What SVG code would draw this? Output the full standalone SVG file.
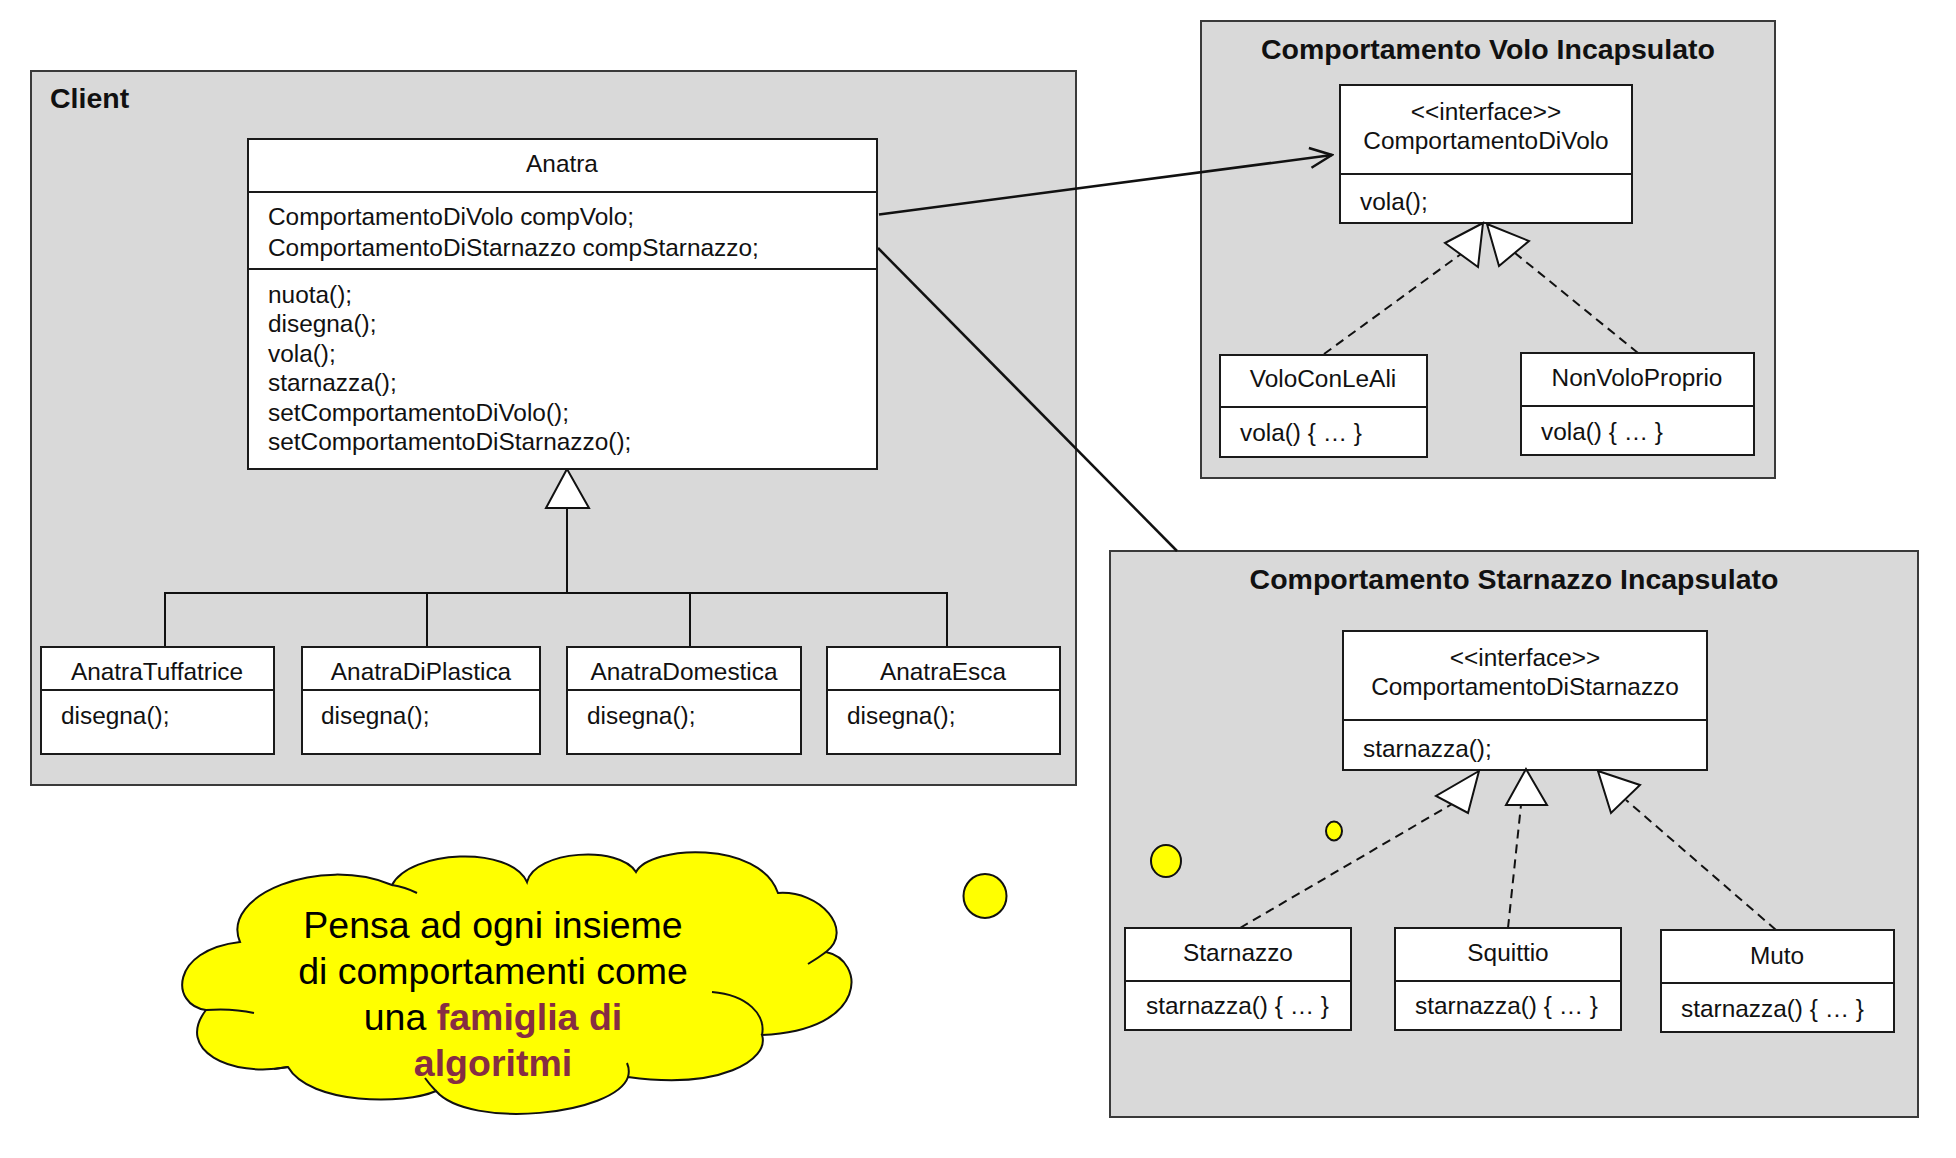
<svg xmlns="http://www.w3.org/2000/svg" width="1956" height="1158" viewBox="0 0 1956 1158">
<defs>
<style>
.panel{fill:#d9d9d9;stroke:#3a3a3a;stroke-width:2}
.box{fill:#fff;stroke:#1a1a1a;stroke-width:2}
.dv{stroke:#1a1a1a;stroke-width:2}
.t{font-family:"Liberation Sans",Arial,sans-serif;font-size:24.4px;fill:#111}
.c{text-anchor:middle}
.b{font-weight:bold;font-size:28.5px}
.conn{stroke:#111;stroke-width:2.5;fill:none}
.gen{stroke:#111;stroke-width:2;fill:none}
.dash{stroke:#111;stroke-width:2;fill:none;stroke-dasharray:9 6}
.tri{fill:#fff;stroke:#111;stroke-width:2;stroke-linejoin:miter}
.cloud{fill:#ffff00;stroke:#111;stroke-width:2}
.tail{fill:none;stroke:#111;stroke-width:2}
.ct{font-family:"Liberation Sans",Arial,sans-serif;font-size:37.5px;fill:#000;text-anchor:middle}
.hl{font-weight:bold;fill:#862d43}
</style>
<marker id="open" markerUnits="userSpaceOnUse" markerWidth="30" markerHeight="30" viewBox="-28 -15 30 30" refX="0" refY="0" orient="auto">
<path d="M-22,-10 L0,0 L-22,10" fill="none" stroke="#111" stroke-width="2.5"/>
</marker>
</defs>
<rect width="1956" height="1158" fill="#fff"/>

<g id="panel-client">
<rect class="panel" x="31" y="71" width="1045" height="714"/>
<text class="t b" x="50" y="108">Client</text>
</g>
<g id="panel-volo">
<rect class="panel" x="1201" y="21" width="574" height="457"/>
<text class="t b c" x="1488" y="59">Comportamento Volo Incapsulato</text>
</g>
<g id="panel-starnazzo">
<rect class="panel" x="1110" y="551" width="808" height="566"/>
<text class="t b c" x="1514" y="589">Comportamento Starnazzo Incapsulato</text>
</g>

<g id="connectors">
<line class="conn" x1="879" y1="214.5" x2="1332" y2="155" marker-end="url(#open)"/>
<line class="conn" x1="878" y1="248" x2="1177" y2="551"/>
<polyline class="gen" points="567,508 567,593 "/>
<polyline class="gen" points="165,647 165,593 947,593 947,647"/>
<line class="gen" x1="427" y1="593" x2="427" y2="647"/>
<line class="gen" x1="690" y1="593" x2="690" y2="647"/>
<polygon class="tri" points="567,469 546,508 589,508"/>
<line class="dash" x1="1324" y1="354" x2="1461" y2="254"/>
<line class="dash" x1="1638" y1="353" x2="1515" y2="253"/>
<line class="dash" x1="1240" y1="928" x2="1452" y2="804"/>
<line class="dash" x1="1508" y1="928" x2="1521" y2="805"/>
<line class="dash" x1="1776" y1="930" x2="1626" y2="800"/>
</g>

<g id="anatra">
<rect class="box" x="248" y="139" width="629" height="330"/>
<line class="dv" x1="248" y1="192" x2="877" y2="192"/>
<line class="dv" x1="248" y1="269" x2="877" y2="269"/>
<text class="t c" x="562" y="172">Anatra</text>
<text class="t" x="268" y="225">ComportamentoDiVolo compVolo;</text>
<text class="t" x="268" y="255.5">ComportamentoDiStarnazzo compStarnazzo;</text>
<text class="t" x="268" y="303">nuota();</text>
<text class="t" x="268" y="332.4">disegna();</text>
<text class="t" x="268" y="361.8">vola();</text>
<text class="t" x="268" y="391.2">starnazza();</text>
<text class="t" x="268" y="420.6">setComportamentoDiVolo();</text>
<text class="t" x="268" y="450">setComportamentoDiStarnazzo();</text>
</g>

<g id="anatra-tuffatrice">
<rect class="box" x="41" y="647" width="233" height="107"/>
<line class="dv" x1="41" y1="690" x2="274" y2="690"/>
<text class="t c" x="157" y="680">AnatraTuffatrice</text>
<text class="t" x="61" y="724">disegna();</text>
</g>
<g id="anatra-di-plastica">
<rect class="box" x="302" y="647" width="238" height="107"/>
<line class="dv" x1="302" y1="690" x2="540" y2="690"/>
<text class="t c" x="421" y="680">AnatraDiPlastica</text>
<text class="t" x="321" y="724">disegna();</text>
</g>
<g id="anatra-domestica">
<rect class="box" x="567" y="647" width="234" height="107"/>
<line class="dv" x1="567" y1="690" x2="801" y2="690"/>
<text class="t c" x="684" y="680">AnatraDomestica</text>
<text class="t" x="587" y="724">disegna();</text>
</g>
<g id="anatra-esca">
<rect class="box" x="827" y="647" width="233" height="107"/>
<line class="dv" x1="827" y1="690" x2="1060" y2="690"/>
<text class="t c" x="943" y="680">AnatraEsca</text>
<text class="t" x="847" y="724">disegna();</text>
</g>

<g id="comportamento-di-volo">
<rect class="box" x="1340" y="85" width="292" height="138"/>
<line class="dv" x1="1340" y1="174" x2="1632" y2="174"/>
<text class="t c" x="1486" y="120">&lt;&lt;interface&gt;&gt;</text>
<text class="t c" x="1486" y="149">ComportamentoDiVolo</text>
<text class="t" x="1360" y="210">vola();</text>
</g>
<g id="volo-con-le-ali">
<rect class="box" x="1220" y="355" width="207" height="102"/>
<line class="dv" x1="1220" y1="407" x2="1427" y2="407"/>
<text class="t c" x="1323" y="387">VoloConLeAli</text>
<text class="t" x="1240" y="441">vola() { … }</text>
</g>
<g id="non-volo-proprio">
<rect class="box" x="1521" y="353" width="233" height="102"/>
<line class="dv" x1="1521" y1="406" x2="1754" y2="406"/>
<text class="t c" x="1637" y="386">NonVoloProprio</text>
<text class="t" x="1541" y="440">vola() { … }</text>
</g>

<g id="comportamento-di-starnazzo">
<rect class="box" x="1343" y="631" width="364" height="139"/>
<line class="dv" x1="1343" y1="720" x2="1707" y2="720"/>
<text class="t c" x="1525" y="666">&lt;&lt;interface&gt;&gt;</text>
<text class="t c" x="1525" y="695">ComportamentoDiStarnazzo</text>
<text class="t" x="1363" y="757">starnazza();</text>
</g>
<g id="starnazzo">
<rect class="box" x="1125" y="928" width="226" height="102"/>
<line class="dv" x1="1125" y1="981" x2="1351" y2="981"/>
<text class="t c" x="1238" y="961">Starnazzo</text>
<text class="t" x="1146" y="1014">starnazza() { … }</text>
</g>
<g id="squittio">
<rect class="box" x="1395" y="928" width="226" height="102"/>
<line class="dv" x1="1395" y1="981" x2="1621" y2="981"/>
<text class="t c" x="1508" y="961">Squittio</text>
<text class="t" x="1415" y="1014">starnazza() { … }</text>
</g>
<g id="muto">
<rect class="box" x="1661" y="930" width="233" height="102"/>
<line class="dv" x1="1661" y1="983" x2="1894" y2="983"/>
<text class="t c" x="1777" y="964">Muto</text>
<text class="t" x="1681" y="1017">starnazza() { … }</text>
</g>

<g id="realization-heads">
<polygon class="tri" points="1483,223 1445,243 1478,267"/>
<polygon class="tri" points="1487,224 1529,241 1499,266"/>
<polygon class="tri" points="1479,771 1436,796 1468,813"/>
<polygon class="tri" points="1526,769 1506,805 1547,805"/>
<polygon class="tri" points="1598,771 1640,785 1611,813"/>
</g>

<g id="thought-cloud">
<ellipse class="cloud" cx="1334" cy="831" rx="8" ry="9.5"/>
<ellipse class="cloud" cx="1166" cy="861" rx="15" ry="16"/>
<ellipse class="cloud" cx="985" cy="896" rx="21.5" ry="22"/>
<path class="cloud" d="M288,1067 C230,1078 175,1050 206,1010 C170,1005 170,950 240,942 C220,895 320,855 392,885 C410,850 510,845 527,882 C535,850 620,845 636,872 C650,845 760,840 778,893 C820,890 855,930 826,952 C865,960 870,1030 762,1035 C770,1060 720,1090 628,1077 C615,1115 470,1130 436,1091 C405,1105 310,1105 288,1067 Z"/>
<path class="tail" d="M206,1010 Q232,1008 254,1013 M392,885 Q405,887 417,893 M826,952 Q818,958 808,964 M762,1035 C766,1015 748,995 712,992 M628,1077 Q630,1070 627,1063 M436,1091 Q430,1085 425,1078 M288,1067 Q281,1068 274,1069"/>
<text class="ct" x="493" y="938">Pensa ad ogni insieme</text>
<text class="ct" x="493" y="984">di comportamenti come</text>
<text class="ct" x="493" y="1030">una <tspan class="hl">famiglia di</tspan></text>
<text class="ct hl" x="493" y="1076">algoritmi</text>
</g>
</svg>
